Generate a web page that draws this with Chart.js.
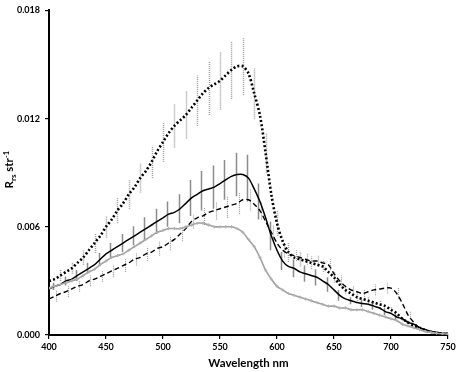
<!DOCTYPE html>
<html>
<head>
<meta charset="utf-8">
<script src="https://cdn.jsdelivr.net/npm/chart.js@4.4.1/dist/chart.umd.min.js"></script>
<style>
html,body{margin:0;padding:0;background:#fff;}
#wrap{width:459px;height:372px;position:relative;}
</style>
</head>
<body>
<div id="wrap"><canvas id="c"></canvas></div>
<script>
// Wavelength grid (nm), 400..750 every 5 nm
const wavelengths = [];
for (let w = 400; w <= 750; w += 5) wavelengths.push(w);

// Series values (Rrs, sr^-1)
const dottedSeries = [
0.0030,0.0031,0.0033,0.0035,0.0037,0.0040,0.0043,0.0047,0.0051,0.0055,
0.0060,0.0064,0.0069,0.0073,0.0078,0.0082,0.0087,0.0091,0.0096,0.0102,
0.0107,0.0112,0.0116,0.0119,0.0122,0.0126,0.0130,0.0134,0.0137,0.0139,
0.0141,0.0144,0.0147,0.0149,0.0149,0.0145,0.0134,0.0122,0.0101,0.0078,
0.0062,0.0052,0.0046,0.0043,0.0042,0.0041,0.0040,0.0039,0.0038,0.0035,
0.0032,0.0028,0.0025,0.0023,0.0021,0.0020,0.0019,0.0018,0.0017,0.0016,
0.0014,0.0012,0.0009,0.0007,0.0005,0.0004,0.00025,0.00018,0.0001,0.00007,0.00005];

const solidSeries = [
0.00256,0.0027,0.0028,0.0030,0.0031,0.0033,0.0035,0.0037,0.0039,0.0042,
0.0045,0.0047,0.0049,0.0051,0.0053,0.0055,0.0057,0.0059,0.0061,0.0063,
0.0065,0.0067,0.0068,0.0070,0.0073,0.0076,0.0078,0.0080,0.0081,0.0082,
0.0084,0.0086,0.0088,0.0089,0.0089,0.0087,0.0081,0.0074,0.0065,0.0055,
0.0047,0.0041,0.0038,0.0037,0.0035,0.0034,0.0033,0.0032,0.0030,0.0028,
0.0025,0.0022,0.0020,0.0019,0.0018,0.00175,0.0017,0.0016,0.0015,0.0013,
0.0012,0.0010,0.0009,0.0007,0.0006,0.0004,0.0003,0.0002,0.00015,0.0001,0.00008];

const dashedSeries = [
0.0020,0.00215,0.0023,0.0024,0.00256,0.0027,0.0028,0.0030,0.0031,0.00325,
0.0034,0.00355,0.0037,0.00385,0.0040,0.0042,0.0043,0.0045,0.0046,0.0048,
0.0049,0.0051,0.0053,0.0056,0.0059,0.0063,0.0065,0.0066,0.0068,0.0069,
0.0070,0.0071,0.0072,0.0073,0.0075,0.0075,0.00725,0.0069,0.0063,0.0057,
0.0051,0.0047,0.0045,0.0044,0.0043,0.0042,0.0041,0.0041,0.0040,0.0039,
0.0034,0.0030,0.0027,0.0025,0.0024,0.0023,0.0024,0.0025,0.00255,0.0026,
0.0026,0.0023,0.00175,0.0011,0.0007,0.0004,0.0003,0.0002,0.00013,0.0001,0.0001];

const greySeries = [
0.0026,0.0027,0.0028,0.0029,0.0030,0.0031,0.0033,0.0035,0.00365,0.0039,
0.0041,0.0043,0.0044,0.0045,0.0047,0.0049,0.0051,0.0053,0.0055,0.0057,
0.0058,0.0059,0.0059,0.0059,0.0060,0.0061,0.0062,0.0062,0.0061,0.0060,
0.0060,0.0060,0.0060,0.0059,0.0057,0.0053,0.0049,0.0043,0.0036,0.0031,
0.0027,0.0025,0.0023,0.0022,0.0021,0.0020,0.0019,0.0018,0.0017,0.0016,
0.0016,0.0015,0.0015,0.0014,0.0014,0.0014,0.0013,0.0012,0.0011,0.0010,
0.0009,0.0008,0.0006,0.0005,0.0004,0.0003,0.0002,0.00015,0.0001,0.00007,0.00005];

// Error bars: wavelength positions and half-lengths
const dottedErrX = [410,420,430,440,450,460,470,480,490,500,510,520,530,540,550,560,570,580,590,600,610,620,630,640,650,660,670,680,690,700,710];
const dottedErr  = [0.0003,0.0003,0.0004,0.00055,0.0006,0.0007,0.0008,0.0008,0.0009,0.0011,0.0012,0.0013,0.0014,0.0015,0.0016,0.0016,0.0016,0.0014,0.0011,0.0007,0.00055,0.0004,0.00035,0.0003,0.0003,0.0002,0.0002,0.0002,0.0002,0.00015,0.0001];

const solidErrX = [405,415,425,435,445,455,465,475,485,495,505,515,525,535,545,555,565,575,585,595,605,615,625,635,645,655,665,675,685,695,705,715];
const solidErr  = [0.0002,0.00025,0.0003,0.0003,0.00035,0.0004,0.0005,0.00053,0.00063,0.0007,0.0007,0.0008,0.001,0.0011,0.0012,0.0011,0.0012,0.0013,0.001,0.0008,0.0005,0.0005,0.00045,0.00045,0.0004,0.0003,0.0002,0.0002,0.0002,0.0002,0.00015,0.0001];

const dashedErrX = [405,415,425,435,445,455,465,475,485,495,505,515,525,535,545,555,565,575,585,595,605,615,625,635,645,655,665,675,685,695,705,715];
const dashedErr  = [0.0003,0.0003,0.0003,0.0003,0.0003,0.00035,0.00035,0.00035,0.0004,0.0004,0.0004,0.0004,0.0004,0.0005,0.0005,0.0006,0.0006,0.0006,0.0005,0.0004,0.0004,0.0003,0.0003,0.0003,0.0003,0.0003,0.0002,0.0002,0.0003,0.0003,0.0003,0.0002];

const yTicks = [0, 0.006, 0.012, 0.018];
const xTicks = [400, 450, 500, 550, 600, 650, 700, 750];

const FONT = 'Lato, "Open Sans", sans-serif';

function pts(vals) { return wavelengths.map((w, i) => ({x: w, y: vals[i]})); }

const errorGroups = [
  {xs: dottedErrX, es: dottedErr, vals: dottedSeries, color: '#9c9c9c', width: 1.5, dash: [1, 1], dx: 0},
  {xs: solidErrX, es: solidErr, vals: solidSeries, color: '#8c8c8c', width: 1.5, dash: [], dx: -1.5},
  {xs: dashedErrX, es: dashedErr, vals: dashedSeries, color: '#9a9a9a', width: 1.2, dash: [1, 1], dx: 1.5},
];

const errorBarPlugin = {
  id: 'errorBars',
  beforeDatasetsDraw(chart) {
    const {ctx, scales: {x, y}} = chart;
    ctx.save();
    ctx.beginPath();
    ctx.rect(chart.chartArea.left, chart.chartArea.top, chart.chartArea.width, chart.chartArea.height);
    ctx.clip();
    errorGroups.forEach(g => {
      ctx.strokeStyle = g.color;
      ctx.lineWidth = g.width;
      ctx.setLineDash(g.dash);
      g.xs.forEach((w, k) => {
        const idx = wavelengths.indexOf(w);
        if (idx < 0) return;
        const c = g.vals[idx];
        const px = Math.round(x.getPixelForValue(w) + g.dx) + 0.5;
        ctx.beginPath();
        ctx.moveTo(px, y.getPixelForValue(c - g.es[k]));
        ctx.lineTo(px, y.getPixelForValue(c + g.es[k]));
        ctx.stroke();
      });
    });
    ctx.restore();
  }
};

const yTitlePlugin = {
  id: 'yTitle',
  afterDraw(chart) {
    const {ctx, chartArea} = chart;
    const parts = [
      {t: 'R', size: 11.5, dy: 0},
      {t: 'rs', size: 8, dy: 3},
      {t: ' str', size: 11.5, dy: 0},
      {t: '-1', size: 7.5, dy: -4.5},
    ];
    ctx.save();
    let total = 0;
    parts.forEach(p => { ctx.font = 'bold ' + p.size + 'px ' + FONT; p.w = ctx.measureText(p.t).width; total += p.w; });
    const cy = (chartArea.top + chartArea.bottom) / 2 - 3;
    ctx.translate(13, cy);
    ctx.rotate(-Math.PI / 2);
    ctx.fillStyle = '#000';
    ctx.textBaseline = 'alphabetic';
    ctx.textAlign = 'left';
    let cx = -total / 2;
    parts.forEach(p => {
      ctx.font = 'bold ' + p.size + 'px ' + FONT;
      ctx.fillText(p.t, cx, p.dy);
      cx += p.w;
    });
    ctx.restore();
  }
};

new Chart(document.getElementById('c'), {
  type: 'line',
  data: {
    datasets: [
      {label: 'grey', data: pts(greySeries), borderColor: '#a0a0a0', borderWidth: 1.6, tension: 0.3,
       pointStyle: 'cross', pointRadius: 1.6, pointBorderColor: '#b0b0b0', pointBorderWidth: 1, pointBackgroundColor: '#b0b0b0'},
      {label: 'dashed', data: pts(dashedSeries), borderColor: '#000', borderWidth: 1.4, borderDash: [5, 3], tension: 0.3, pointRadius: 0},
      {label: 'solid', data: pts(solidSeries), borderColor: '#000', borderWidth: 1.5, tension: 0.3, pointRadius: 0},
      {label: 'dotted', data: pts(dottedSeries), borderColor: '#000', borderWidth: 2.6, borderDash: [2, 2.2], tension: 0.3, pointRadius: 0},
    ]
  },
  options: {
    responsive: true,
    maintainAspectRatio: false,
    animation: false,
    events: [],
    layout: {padding: {top: 5, right: 11, left: 0, bottom: 0}},
    plugins: {legend: {display: false}, tooltip: {enabled: false}},
    scales: {
      x: {
        type: 'linear', min: 400, max: 750,
        afterBuildTicks: s => { s.ticks = xTicks.map(v => ({value: v})); },
        afterFit: s => { s.height = 37; },
        ticks: {color: '#000', font: {family: FONT, weight: 'bold', size: 9}, padding: 3, maxRotation: 0},
        grid: {display: true, drawOnChartArea: false, drawTicks: true, tickLength: 4, color: '#000', lineWidth: 1.2},
        border: {display: true, color: '#000', width: 2},
        title: {display: true, text: 'Wavelength nm', color: '#000', font: {family: FONT, weight: 'bold', size: 11.5}, padding: {top: 2, bottom: 2}}
      },
      y: {
        min: 0, max: 0.018,
        afterBuildTicks: s => { s.ticks = yTicks.map(v => ({value: v})); },
        afterFit: s => { s.width = 49; },
        ticks: {color: '#000', font: {family: FONT, weight: 'bold', size: 9}, padding: 5, callback: v => Number(v).toFixed(3)},
        grid: {display: true, drawOnChartArea: false, drawTicks: true, tickLength: 4, color: '#000', lineWidth: 1.2},
        border: {display: true, color: '#000', width: 2}
      }
    }
  },
  plugins: [errorBarPlugin, yTitlePlugin]
});
</script>
</body>
</html>
